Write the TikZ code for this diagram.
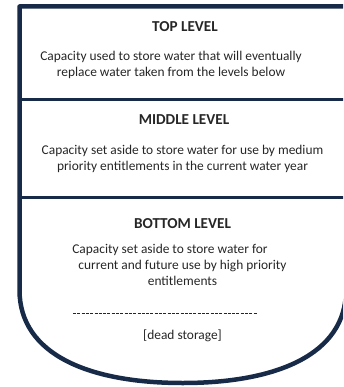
\documentclass[tikz,border=0pt]{standalone}
\usepackage{fontspec}
\setmainfont{Carlito}

\definecolor{tankblue}{HTML}{172B49}
\definecolor{txtgray}{HTML}{262626}

\begin{document}
\begin{tikzpicture}[x=1pt, y=-1pt,
  wall/.style={draw=tankblue, line width=4.5pt, line join=round},
  divider/.style={draw=tankblue, line width=3pt},
  head/.style={font=\fontsize{15.2}{17}\selectfont\bfseries, text=txtgray, inner sep=0pt},
  body/.style={font=\fontsize{13.4}{16}\selectfont, text=txtgray, align=center, inner sep=0pt}]

\useasboundingbox ( 0, 0 ) rectangle ( 343, 387 );
\clip ( 0, 0 ) rectangle ( 343, 387 );

% Tank outline
\draw [wall] ( 346, 6.5 ) -- ( 19.5, 6.5 ) -- ( 19.5, 290 )
  .. controls ( 19.5, 355 ) and ( 90, 383 ) .. ( 182.75, 383 )
  .. controls ( 275.5, 383 ) and ( 346, 355 ) .. ( 346, 290 ) -- cycle;

% Level boundaries
\draw [divider] ( 19.5, 100 ) -- ( 346, 100 );
\draw [divider] ( 19.5, 197 ) -- ( 346, 197 );

% Top level
\node (topHead) at ( 185, 26.5 ) [head] {TOP LEVEL};
\node (topText) at ( 171, 65 ) [body] {Capacity used to store water that will eventually\\replace water taken from the levels below};

% Middle level
\node (midHead) at ( 184, 120 ) [head] {MIDDLE LEVEL};
\node (midText) at ( 182.5, 158.5 ) [body] {Capacity set aside to store water for use by medium\\priority entitlements in the current water year};

% Bottom level
\node (botHead) at ( 182.5, 223.5 ) [head] {BOTTOM LEVEL};
\node (botText) at ( 182.5, 265 ) [body] {Capacity set aside to store water for\hspace*{25pt}\\current and future use by high priority\\entitlements};

% Dead storage
\draw [txtgray, line width=0.6pt, dash pattern=on 3pt off 1.3pt] ( 73, 313 ) -- ( 257, 313 );
\node (dead) at ( 182.5, 336 ) [body] {[dead storage]};

\end{tikzpicture}
\end{document}
